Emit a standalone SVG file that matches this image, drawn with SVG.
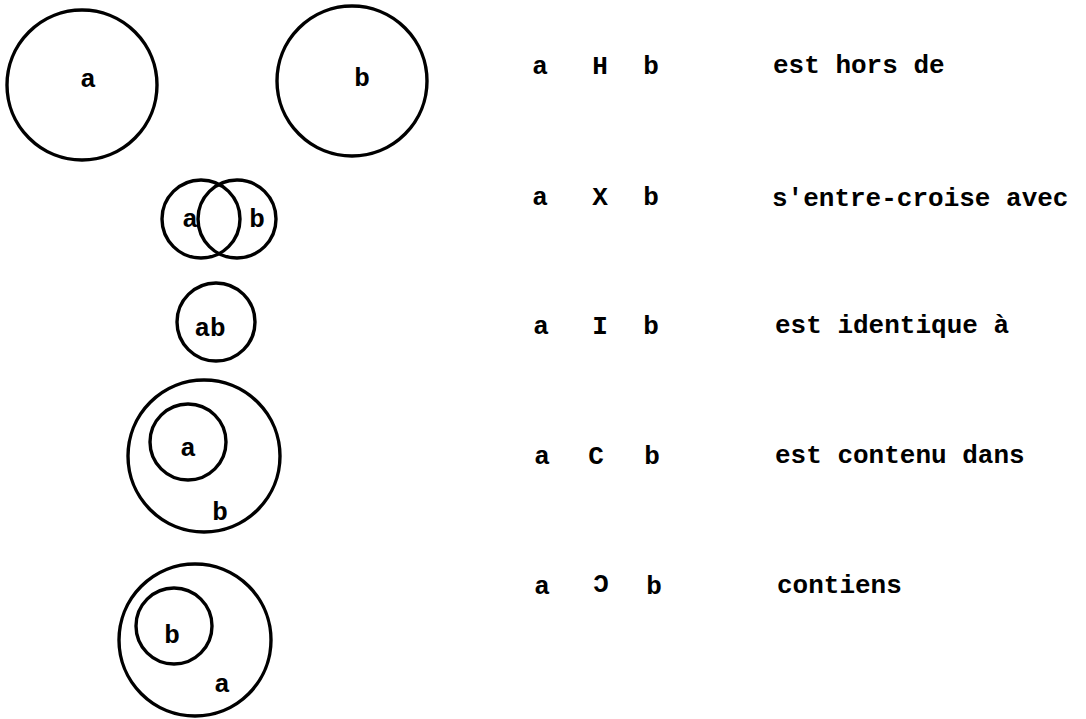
<svg xmlns="http://www.w3.org/2000/svg" width="1086" height="719" viewBox="0 0 1086 719">
  <style>
    .ring { fill: none; stroke: #000; stroke-width: 3.4; }
    .t { font-family: "Liberation Mono", "Courier New", monospace; font-weight: bold; font-size: 26px; fill: #000; }
    .c { text-anchor: middle; }
  </style>
  <rect x="0" y="0" width="1086" height="719" fill="#fff"/>

  <!-- a H b : disjoint sets -->
  <g id="node-disjoint">
    <circle class="ring" cx="82" cy="85" r="75"/>
    <circle class="ring" cx="352" cy="81" r="75"/>
    <text class="t c" x="88" y="87">a</text>
    <text class="t c" x="362" y="86">b</text>
  </g>

  <!-- a X b : overlapping sets -->
  <g id="node-overlap">
    <circle class="ring" cx="201" cy="219" r="39"/>
    <circle class="ring" cx="237" cy="219" r="39"/>
    <text class="t c" x="190" y="227">a</text>
    <text class="t c" x="257" y="227">b</text>
  </g>

  <!-- a I b : identical sets -->
  <g id="node-identical">
    <circle class="ring" cx="216" cy="322" r="39"/>
    <text class="t c" x="210" y="336">ab</text>
  </g>

  <!-- a C b : a inside b -->
  <g id="node-contained">
    <circle class="ring" cx="204" cy="456" r="76"/>
    <circle class="ring" cx="188" cy="442" r="38"/>
    <text class="t c" x="188" y="456">a</text>
    <text class="t c" x="220" y="520">b</text>
  </g>

  <!-- a contains b -->
  <g id="node-contains">
    <circle class="ring" cx="195" cy="640" r="76"/>
    <circle class="ring" cx="174" cy="626" r="38"/>
    <text class="t c" x="172" y="643">b</text>
    <text class="t c" x="222" y="692">a</text>
  </g>

  <!-- relation table -->
  <g id="legend">
    <text class="t c" x="540" y="74">a</text>
    <text class="t c" x="600" y="74">H</text>
    <text class="t c" x="651" y="74">b</text>
    <text class="t" x="773" y="73">est hors de</text>

    <text class="t c" x="540" y="205">a</text>
    <text class="t c" x="600" y="205">X</text>
    <text class="t c" x="651" y="205">b</text>
    <text class="t" x="772" y="206">s'entre-croise avec</text>

    <text class="t c" x="541" y="334">a</text>
    <text class="t c" x="600" y="334">I</text>
    <text class="t c" x="651" y="334">b</text>
    <text class="t" x="775" y="333">est identique à</text>

    <text class="t c" x="542" y="464">a</text>
    <text class="t c" x="596" y="464">C</text>
    <text class="t c" x="652" y="464">b</text>
    <text class="t" x="775" y="463">est contenu dans</text>

    <text class="t c" x="542" y="594">a</text>
    <text class="t c" font-size="28" transform="translate(601 592) scale(-1 1)">C</text>
    <text class="t c" x="654" y="594">b</text>
    <text class="t" x="777" y="593">contiens</text>
  </g>
</svg>
